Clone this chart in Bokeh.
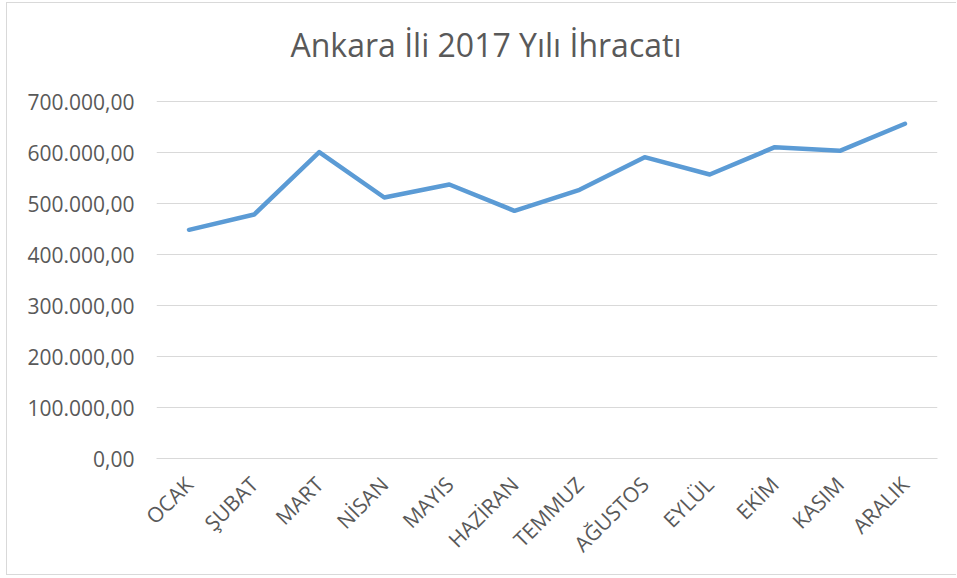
from bokeh.plotting import figure
from bokeh.models import Range1d, FixedTicker, CustomJSTickFormatter, Label
from bokeh.embed import file_html
from bokeh.resources import INLINE
import math

months = ["OCAK", "ŞUBAT", "MART", "NİSAN", "MAYIS", "HAZİRAN", "TEMMUZ",
          "AĞUSTOS", "EYLÜL", "EKİM", "KASIM", "ARALIK"]
values = [448400, 478400, 600600, 511800, 537300, 485600, 526800,
          590800, 556900, 610400, 603300, 656300]
y_ticks = [0, 100000, 200000, 300000, 400000, 500000, 600000, 700000]
title_text = "Ankara İli 2017 Yılı İhracatı"

TXT = "#595959"
GRID = "#d9d9d9"

# frame spans the full height above the x axis so the title can sit inside it;
# the 700.000 gridline stays 357px above the axis as in the reference
FRAME_H = 455
AXIS_SPAN_PX = 357
y_top = y_ticks[-1] * FRAME_H / AXIS_SPAN_PX

p = figure(x_range=months, y_range=Range1d(0, y_top),
           width=950, height=573, output_backend="svg", toolbar_location=None,
           min_border_left=149, min_border_right=20, min_border_top=0, min_border_bottom=118)

p.styles = {"border-left": "1px solid #d9d9d9", "border-top": "1px solid #d9d9d9",
            "border-bottom": "1px solid #d9d9d9",
            "margin-left": "6px", "margin-top": "2px"}

title = Label(text=title_text, x=134, y=414, x_units="screen", y_units="screen",
              text_font="Open Sans", text_font_size="32px", text_color=TXT,
              text_align="left", text_baseline="alphabetic")
p.add_layout(title)

p.outline_line_color = None
p.background_fill_color = "white"
p.border_fill_color = "white"

p.xgrid.grid_line_color = None
p.ygrid.grid_line_color = GRID
p.ygrid.grid_line_width = 1

p.yaxis.ticker = FixedTicker(ticks=y_ticks)
p.yaxis.formatter = CustomJSTickFormatter(code="""
const s = tick.toFixed(2);
const parts = s.split('.');
return parts[0].replace(/\\B(?=(\\d{3})+(?!\\d))/g, '.') + ',' + parts[1];
""")
p.yaxis.axis_line_color = None
p.yaxis.major_tick_line_color = None
p.yaxis.minor_tick_line_color = None
p.yaxis.major_label_text_font = "Open Sans"
p.yaxis.major_label_text_font_size = "21px"
p.yaxis.major_label_text_color = TXT
p.yaxis.major_label_standoff = 16

p.xaxis.axis_line_color = GRID
p.xaxis.axis_line_width = 1
p.xaxis.major_tick_line_color = None
p.xaxis.minor_tick_line_color = None
p.xaxis.major_label_orientation = math.pi / 4
p.xaxis.major_label_text_font = "Open Sans"
p.xaxis.major_label_text_font_size = "21px"
p.xaxis.major_label_text_color = TXT
p.xaxis.major_label_standoff = 16

p.line(months, values, line_color="#5B9BD5", line_width=4.5,
       line_join="round", line_cap="round")

open("out.html", "w").write(file_html(p, INLINE))
